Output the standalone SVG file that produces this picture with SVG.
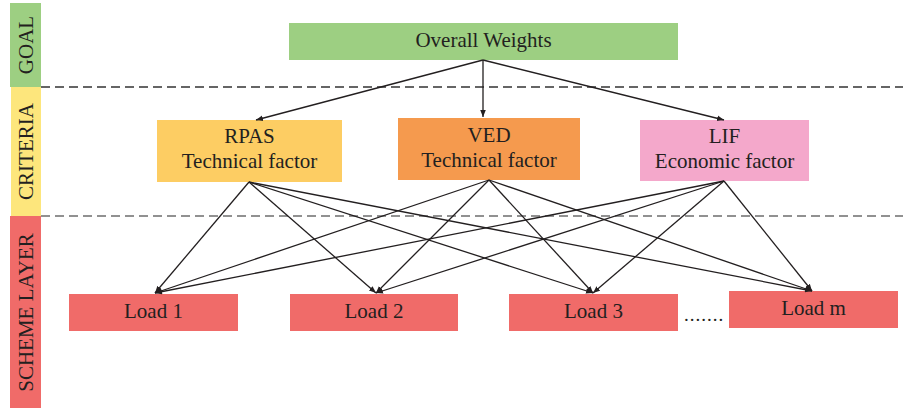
<svg xmlns="http://www.w3.org/2000/svg" width="903" height="409" viewBox="0 0 903 409">
<style>
text{font-family:"Liberation Serif","DejaVu Serif",serif;fill:#231f20;font-size:21px;text-anchor:middle}
.c line{stroke:#231f20;stroke-width:1.3;marker-end:url(#ah)}
.dash{stroke-width:1.5;stroke-dasharray:9 5}
</style>
<defs>
<marker id="ah" viewBox="0 0 10 10" refX="10" refY="5" markerWidth="7" markerHeight="7" markerUnits="userSpaceOnUse" orient="auto">
<path d="M0,1 L10,5 L0,9 z" fill="#231f20"/>
</marker>
</defs>
<rect width="903" height="409" fill="#fff"/>
<g id="layer-goal"><rect x="10" y="3" width="31" height="84" fill="#9dcf82"/><text transform="translate(33,45) rotate(-90)">GOAL</text></g>
<g id="layer-criteria"><rect x="11" y="87" width="30" height="129" fill="#fde67c"/><text transform="translate(33,151.5) rotate(-90)">CRITERIA</text></g>
<g id="layer-scheme"><rect x="10" y="216" width="31" height="192" fill="#f06b69"/><text transform="translate(32.5,312.5) rotate(-90)">SCHEME LAYER</text></g>
<line class="dash" x1="41" y1="87" x2="903" y2="87" stroke="#333"/>
<line class="dash" x1="41" y1="216" x2="903" y2="216" stroke="#6d6d6d"/>
<g id="goal"><rect x="289" y="23" width="389" height="37" fill="#9dcf82"/><text x="483.5" y="47">Overall Weights</text></g>
<g id="rpas"><rect x="157" y="120" width="185" height="62" fill="#fdcd63"/><text x="249.5" y="143">RPAS</text><text x="249.5" y="168">Technical factor</text></g>
<g id="ved"><rect x="398" y="118" width="182" height="62" fill="#f59a4e"/><text x="489" y="142">VED</text><text x="489" y="167">Technical factor</text></g>
<g id="lif"><rect x="640" y="120" width="169" height="61" fill="#f4a8cb"/><text x="724.5" y="143">LIF</text><text x="724.5" y="168">Economic factor</text></g>
<g id="load1"><rect x="69" y="294" width="169" height="37" fill="#f06b69"/><text x="153.5" y="318">Load 1</text></g>
<g id="load2"><rect x="290" y="294" width="168" height="37" fill="#f06b69"/><text x="374" y="318">Load 2</text></g>
<g id="load3"><rect x="509" y="294" width="169" height="37" fill="#f06b69"/><text x="593.5" y="318">Load 3</text></g>
<g id="loadm"><rect x="729" y="291" width="169" height="37" fill="#f06b69"/><text x="813.5" y="315">Load m</text></g>
<text x="704" y="321" style="font-size:19px;letter-spacing:1px">.......</text>
<g class="c" id="connectors">
<line x1="483" y1="60" x2="256" y2="120"/>
<line x1="483" y1="60" x2="483" y2="117"/>
<line x1="483" y1="60" x2="724" y2="120"/>
<line x1="249" y1="182" x2="155" y2="293"/>
<line x1="249" y1="182" x2="376" y2="293"/>
<line x1="249" y1="182" x2="593" y2="293"/>
<line x1="249" y1="182" x2="812" y2="291"/>
<line x1="489" y1="180" x2="155" y2="293"/>
<line x1="489" y1="180" x2="376" y2="293"/>
<line x1="489" y1="180" x2="593" y2="293"/>
<line x1="489" y1="180" x2="812" y2="291"/>
<line x1="724" y1="181" x2="155" y2="293"/>
<line x1="724" y1="181" x2="376" y2="293"/>
<line x1="724" y1="181" x2="593" y2="293"/>
<line x1="724" y1="181" x2="812" y2="291"/>
</g>
</svg>
